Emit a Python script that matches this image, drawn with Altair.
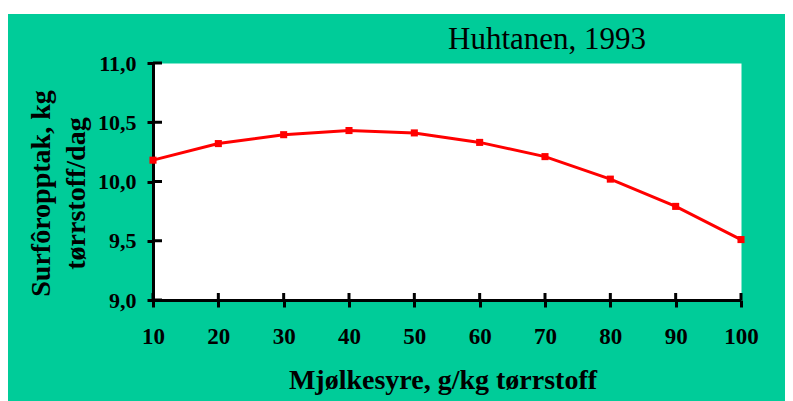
import altair as alt
import pandas as pd

# Data
lactic_acid = [10, 20, 30, 40, 50, 60, 70, 80, 90, 100]
intake = [10.18, 10.32, 10.395, 10.43, 10.41, 10.33, 10.21, 10.02, 9.79, 9.51]
y_ticks = [9.0, 9.5, 10.0, 10.5, 11.0]
x_ticks = [10, 20, 30, 40, 50, 60, 70, 80, 90, 100]
title_text = ["Huhtanen, 1993"]

df = pd.DataFrame({"x": lactic_acid, "y": intake})
ytick_df = pd.DataFrame({"y": y_ticks})
xtick_df = pd.DataFrame({"x": x_ticks})
title_df = pd.DataFrame({"t": title_text})

FONT = "Liberation Serif"
W, H = 588, 237
PAD = {"left": 145, "top": 55, "right": 44, "bottom": 101}

x_scale = alt.Scale(domain=[10, 100], nice=False, zero=False)
y_scale = alt.Scale(domain=[9, 11], nice=False, zero=False)

x_axis = alt.Axis(
    values=x_ticks, format="d", grid=False,
    labelFont=FONT, labelFontSize=23, labelFontWeight="bold", labelColor="black",
    labelBaseline="alphabetic", labelPadding=36, labelFlush=False, labelOverlap=False,
    tickSize=7, tickWidth=3, tickColor="black",
    domainColor="black", domainWidth=3,
    title="Mjølkesyre, g/kg tørrstoff", titleFont=FONT, titleFontSize=28,
    titleFontWeight="bold", titleColor="black", titleBaseline="alphabetic",
    titleAlign="center", titleX=289.5, titleY=88,
)
y_axis = alt.Axis(
    values=y_ticks, grid=False,
    labelExpr="replace(format(datum.value, '.1f'), '.', ',')",
    labelFont=FONT, labelFontSize=22, labelFontWeight="bold", labelColor="black",
    labelPadding=11, labelOverlap=False, labelFlush=False,
    tickSize=6, tickWidth=3, tickColor="black",
    domainColor="black", domainWidth=3,
    title=["Surfôropptak, kg", "tørrstoff/dag"], titleFont=FONT, titleFontSize=28,
    titleFontWeight="bold", titleColor="black", titleBaseline="alphabetic",
    titleAlign="center", titleX=-104, titleY=130, titleLineHeight=35,
)

# white strip above the green panel (page background in the reference)
top_strip = alt.Chart(title_df).mark_rect(color="white").encode(
    x=alt.value(-PAD["left"]), x2=alt.value(W + PAD["right"]),
    y=alt.value(-PAD["top"]), y2=alt.value(-PAD["top"] + 6),
)
line = alt.Chart(df).mark_line(color="#FF0000", strokeWidth=3).encode(
    x=alt.X("x:Q", scale=x_scale, axis=x_axis),
    y=alt.Y("y:Q", scale=y_scale, axis=y_axis),
)
points = alt.Chart(df).mark_square(color="#FF0000", size=50, opacity=1).encode(
    x=alt.X("x:Q", scale=x_scale), y=alt.Y("y:Q", scale=y_scale)
)
ytick_inner = alt.Chart(ytick_df).mark_rule(color="black", strokeWidth=3).encode(
    y=alt.Y("y:Q", scale=y_scale), x=alt.value(0), x2=alt.value(9)
)
xtick_inner = alt.Chart(xtick_df).mark_rule(color="black", strokeWidth=3).encode(
    x=alt.X("x:Q", scale=x_scale), y=alt.value(H - 7), y2=alt.value(H)
)
title_mark = alt.Chart(title_df).mark_text(
    font=FONT, fontSize=31, fontWeight="normal", color="black",
    align="left", baseline="alphabetic",
).encode(text="t:N", x=alt.value(295), y=alt.value(-14))

chart = alt.layer(top_strip, ytick_inner, xtick_inner, line, points, title_mark).properties(
    width=W, height=H,
    background="#00CC99",
    autosize=alt.AutoSizeParams(type="none"),
    padding=PAD,
).configure_view(fill="white", stroke="transparent")

chart.save("out.html", embed_options={"renderer": "svg", "actions": False})
